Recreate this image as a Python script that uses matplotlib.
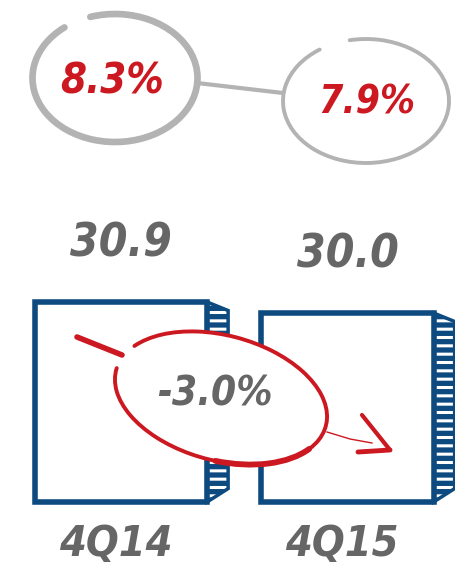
import matplotlib
matplotlib.use("Agg")
import matplotlib.pyplot as plt
from matplotlib.patches import Polygon, Ellipse, Arc

# data
quarters = ["4Q14", "4Q15"]
values = [30.9, 30.0]
margins = [8.3, 7.9]
change = -3.0

BLUE = "#0d4a80"
RED = "#cc1820"
GRAY = "#666666"
LGRAY = "#b3b3b3"
FONT = ["DejaVu Sans"]
TXT = dict(fontweight="bold", style="italic", family=FONT, fontstretch="condensed")

fig = plt.figure(figsize=(4.56, 5.67), dpi=100)

# bar axes, truncated: base value sits at y=502 px, 30.9 at y=302 px
base = 14.5
ax = fig.add_axes([7.75 / 456, (567 - 502) / 567, 453 / 456, 200 / 567])
ax.set_xlim(-0.5, 1.5)
ax.set_ylim(base, max(values))
ax.axis("off")

x = list(range(len(values)))
w = 0.76
bars = ax.bar(x, [v - base for v in values], bottom=base, width=w, color="white",
              edgecolor=BLUE, linewidth=4, zorder=2)
for b in bars:
    b.set_clip_on(False)

# side faces with white stripes
dx, dtop, dbot = 0.093, 0.7, 1.1
plt.rcParams["hatch.linewidth"] = 2.2
for xi, v in zip(x, values):
    pts = [(xi + w / 2, base), (xi + w / 2, v), (xi + w / 2 + dx, v - dtop), (xi + w / 2 + dx, base + dbot)]
    ax.add_patch(Polygon(pts, closed=True, facecolor=BLUE, edgecolor="white", hatch="--",
                         linewidth=0, zorder=1, clip_on=False))
    ax.add_patch(Polygon(pts, closed=True, facecolor="none", edgecolor=BLUE, linewidth=2.5,
                         zorder=1, clip_on=False))
    ax.annotate(f"{v:.1f}", (xi, v), xytext=(0, 42), textcoords="offset points",
                ha="center", va="center", fontsize=33, color=GRAY,
                annotation_clip=False, **TXT)
    ax.annotate(quarters[xi], (xi, base), xytext=(-4, -30), textcoords="offset points",
                ha="center", va="center", fontsize=31, color=GRAY,
                annotation_clip=False, **TXT)

# decoration layer in pixel coordinates
deco = fig.add_axes([0, 0, 1, 1])
deco.set_xlim(0, 456)
deco.set_ylim(567, 0)
deco.axis("off")
deco.patch.set_alpha(0)

# grey circles with margin values
deco.plot([197, 283], [83, 93], color=LGRAY, lw=3, solid_capstyle="round")
deco.add_patch(Arc((115, 78), 165, 128, theta1=248, theta2=585, color=LGRAY, lw=4.8, capstyle="round"))
deco.add_patch(Arc((366, 101), 166, 124, theta1=255, theta2=588, color=LGRAY, lw=2.8, capstyle="round"))
deco.text(112, 81, f"{margins[0]}%", ha="center", va="center", fontsize=30, color=RED, **TXT)
deco.text(367, 103, f"{margins[1]}%", ha="center", va="center", fontsize=28, color=RED, **TXT)

# red change bubble
ctr, ew, eh, ang = (221, 398), 217, 125, 15
deco.add_patch(Ellipse(ctr, ew, eh, angle=ang, facecolor="white", edgecolor="none", zorder=3))
deco.add_patch(Arc(ctr, ew, eh, angle=ang, theta1=196, theta2=541, color=RED, lw=2.8,
                   capstyle="round", zorder=4))
deco.add_patch(Arc(ctr, ew, eh, angle=ang, theta1=15, theta2=80, color=RED, lw=4.2,
                   capstyle="round", zorder=4))
deco.plot([77, 122], [337, 355], color=RED, lw=4, solid_capstyle="round", zorder=4)
deco.plot([327, 350, 372], [432, 439, 443], color=RED, lw=1, zorder=4)
deco.plot([362, 390], [415, 450], color=RED, lw=3, solid_capstyle="round", zorder=4)
deco.plot([358, 390], [452, 450], color=RED, lw=3.5, solid_capstyle="round", zorder=4)
deco.text(215, 395, f"{change:.1f}%", ha="center", va="center", fontsize=29, color=GRAY,
          zorder=5, **TXT)

fig.savefig("out.png", dpi=100)
